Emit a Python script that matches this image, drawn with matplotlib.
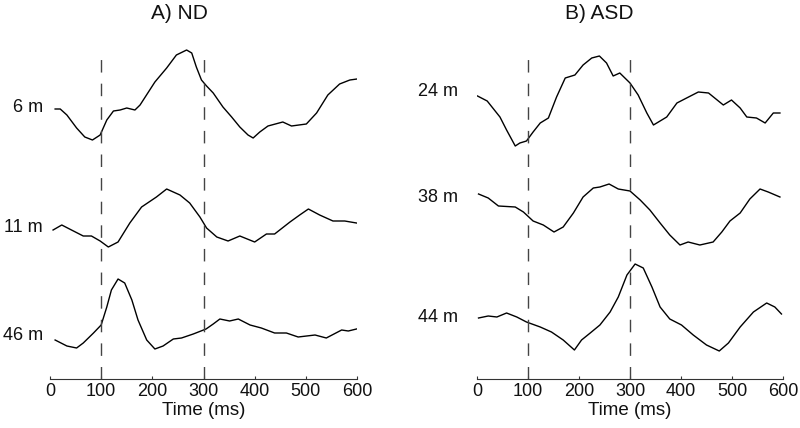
import matplotlib
matplotlib.use("Agg")
import matplotlib.pyplot as plt

plt.rcParams['font.family'] = ['Liberation Sans', 'DejaVu Sans']

# --- ND group: time (ms) and amplitude (arbitrary units) ---
nd_6m_t = [10, 20, 33, 52, 68, 83, 98, 111, 124, 137, 150, 166, 176, 205, 228, 247, 267, 277,
           286, 296, 306, 319, 338, 355, 371, 387, 397, 410, 426, 455, 472, 501, 521, 543, 566, 586, 600]
nd_6m_v = [-2, -2, -8, -21, -30, -33, -28, -13, -4, -3, -1, -3, 2, 25, 39, 52, 57, 54,
           40, 27, 21, 14, 0, -10, -20, -28, -31, -25, -19, -15, -19, -17, -6, 12, 23, 27, 28]

nd_11m_t = [6, 23, 42, 65, 81, 98, 114, 133, 156, 179, 208, 228, 254, 273, 293, 306, 326, 348,
            371, 400, 423, 439, 469, 488, 505, 527, 553, 576, 599]
nd_11m_v = [-3, 2, -3, -9, -9, -14, -20, -15, 4, 20, 30, 38, 32, 24, 10, -1, -10, -14,
            -9, -15, -7, -7, 5, 12, 18, 12, 6, 6, 4]

nd_46m_t = [10, 33, 52, 65, 85, 100, 111, 120, 133, 146, 160, 172, 189, 205, 221, 241, 257, 280,
            305, 319, 332, 351, 368, 391, 413, 439, 462, 485, 518, 540, 570, 583, 599]
nd_46m_v = [-5, -11, -13, -8, 2, 10, 28, 45, 56, 52, 35, 15, -5, -14, -11, -4, -3, 1,
            6, 11, 16, 14, 16, 10, 7, 2, 2, -2, 0, -3, 5, 4, 6]

# --- ASD group ---
asd_24m_t = [1, 20, 45, 58, 75, 84, 97, 110, 124, 140, 156, 173, 192, 208, 225, 240, 254, 267,
             280, 300, 316, 333, 346, 372, 392, 411, 434, 454, 483, 499, 516, 529, 548, 565, 581, 594]
asd_24m_v = [-4, -9, -25, -38, -54, -51, -49, -40, -31, -26, -5, 14, 17, 27, 34, 36, 29, 16,
             19, 9, -3, -21, -33, -25, -11, -6, 0, -1, -13, -8, -16, -25, -26, -31, -21, -21]

asd_38m_t = [3, 22, 42, 75, 91, 110, 130, 151, 169, 189, 208, 228, 241, 259, 277, 300, 320, 339,
             359, 378, 398, 414, 437, 463, 480, 496, 516, 535, 555, 571, 594]
asd_38m_v = [4, 0, -8, -9, -14, -23, -27, -34, -29, -15, 1, 10, 11, 14, 9, 7, -2, -12,
             -25, -37, -47, -44, -47, -44, -34, -23, -15, -1, 9, 6, 1]

asd_44m_t = [3, 22, 39, 58, 78, 97, 124, 146, 169, 191, 205, 222, 241, 261, 277, 294, 310, 326,
             343, 359, 378, 401, 424, 450, 475, 493, 516, 542, 568, 584, 597]
asd_44m_v = [0, 2, 1, 5, 1, -4, -9, -14, -22, -32, -22, -15, -7, 6, 21, 43, 54, 50,
             31, 11, -1, -7, -17, -27, -33, -25, -9, 6, 15, 11, 4]

nd_labels = ['6 m', '11 m', '46 m']
asd_labels = ['24 m', '38 m', '44 m']
xticks = [0, 100, 200, 300, 400, 500, 600]
markers_ms = [100, 300]


def draw_panel(ax, traces, labels, offsets, title, label_x, title_x):
    for (t, v), lab, off in zip(traces, labels, offsets):
        ax.plot(t, [a + off for a in v], color='black', lw=1.0, solid_joinstyle='round')
        ax.text(label_x, off, lab, ha='right', va='center', fontsize=13, color='#111111')
    ax.vlines(markers_ms, 0, 326, colors='#444444', lw=1.0, linestyles=(0, (9, 8)))
    ax.set_xlim(0, 600)
    ax.set_ylim(0, 339)
    ax.set_xticks(xticks)
    ax.set_yticks([])
    for s in ['top', 'right', 'left']:
        ax.spines[s].set_visible(False)
    ax.spines['bottom'].set_color('#333333')
    ax.spines['bottom'].set_linewidth(0.8)
    ax.tick_params(axis='x', direction='in', length=2, labelsize=13, colors='#333333',
                   labelcolor='#111111', pad=3)
    ax.set_xlabel('Time (ms)', fontsize=13.5, color='#111111', labelpad=1)
    ax.text(title_x, 1.05, title, transform=ax.transAxes, ha='center', va='bottom',
            fontsize=15, color='#111111')


fig = plt.figure(figsize=(8, 4.28), dpi=100)
ax1 = fig.add_axes([50 / 800, 49 / 428, 307 / 800, 339 / 428])
ax2 = fig.add_axes([477 / 800, 49 / 428, 306 / 800, 339 / 428])

draw_panel(ax1, [(nd_6m_t, nd_6m_v), (nd_11m_t, nd_11m_v), (nd_46m_t, nd_46m_v)],
           nd_labels, [272, 152, 44], 'A) ND', -14, 0.42)
draw_panel(ax2, [(asd_24m_t, asd_24m_v), (asd_38m_t, asd_38m_v), (asd_44m_t, asd_44m_v)],
           asd_labels, [287, 181, 61], 'B) ASD', -38, 0.40)

fig.savefig('out.png', dpi=100)
